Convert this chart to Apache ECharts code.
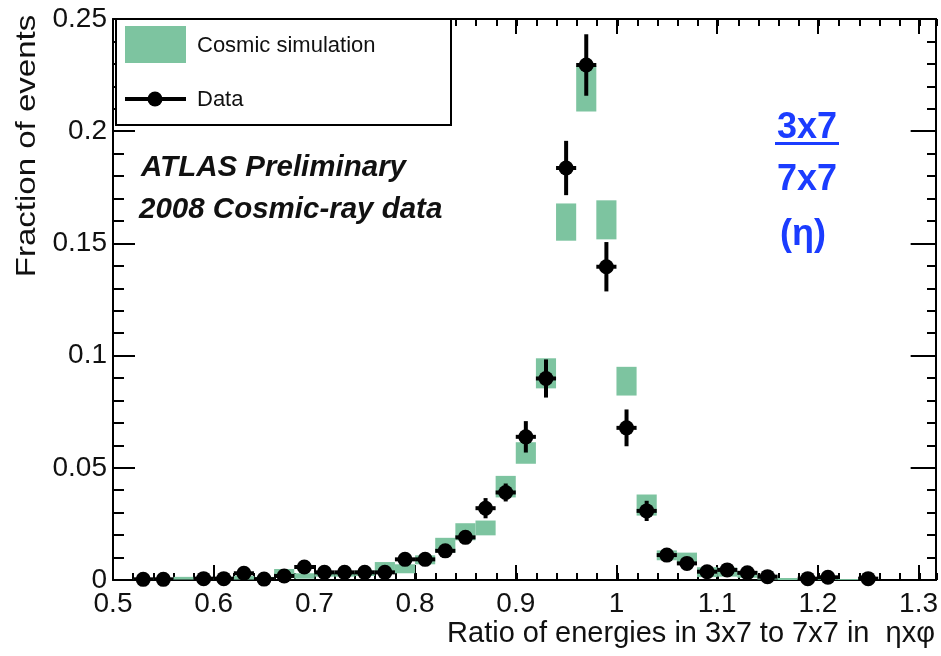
<!DOCTYPE html>
<html>
<head>
<meta charset="utf-8">
<script src="https://cdn.jsdelivr.net/npm/echarts@6/dist/echarts.min.js"></script>
<style>
html,body{margin:0;padding:0;background:#fff;}
#c{width:941px;height:656px;}
</style>
</head>
<body>
<div id="c"></div>
<script>
// ---- data ----
const xTickValues = [0.5, 0.6, 0.7, 0.8, 0.9, 1.0, 1.1, 1.2, 1.3];
const yTickValues = [0, 0.05, 0.1, 0.15, 0.2, 0.25];

// Cosmic simulation: bin centres, values, half-heights of the band
const simX = [0.53,0.55,0.57,0.59,0.61,0.63,0.65,0.67,0.69,0.71,0.73,0.75,0.77,0.79,0.81,0.83,0.85,0.87,0.89,0.91,0.93,0.95,0.97,0.99,1.01,1.03,1.05,1.07,1.09,1.11,1.13,1.15,1.17,1.19,1.21,1.23,1.25];
const simY = [0.0004,0.0004,0.0008,0.0004,0.0004,0.001,0.0008,0.0036,0.0018,0.0025,0.0025,0.003,0.0058,0.005,0.009,0.0155,0.0215,0.0232,0.0416,0.0566,0.0921,0.1595,0.219,0.1605,0.0886,0.0334,0.011,0.0098,0.0035,0.0035,0.0025,0.001,0.0005,0.0003,0.0003,0.0002,0.0002];
const simErr = [0.0004,0.0004,0.0006,0.0004,0.0004,0.0008,0.0006,0.0013,0.0012,0.001,0.001,0.0012,0.0022,0.002,0.002,0.0033,0.0038,0.0033,0.0048,0.0048,0.0067,0.0083,0.0102,0.0087,0.0064,0.0047,0.0022,0.0024,0.0022,0.002,0.0015,0.0008,0.0004,0.0003,0.0003,0.0002,0.0002];

// Data: bin centres, values, errors
const dataX = [0.53,0.55,0.59,0.61,0.63,0.65,0.67,0.69,0.71,0.73,0.75,0.77,0.79,0.81,0.83,0.85,0.87,0.89,0.91,0.93,0.95,0.97,0.99,1.01,1.03,1.05,1.07,1.09,1.11,1.13,1.15,1.19,1.21,1.25];
const dataY = [0.0003,0.0003,0.0006,0.0006,0.003,0.0004,0.0018,0.0058,0.0034,0.0034,0.0034,0.0034,0.0092,0.0092,0.013,0.019,0.032,0.039,0.0638,0.0898,0.1836,0.2295,0.1396,0.0678,0.0308,0.0111,0.0074,0.0037,0.0045,0.0032,0.0015,0.0006,0.0012,0.0006];
const dataErr = [0.0005,0.0005,0.0006,0.0006,0.0012,0.0005,0.001,0.0016,0.0012,0.0012,0.0012,0.0012,0.002,0.002,0.0023,0.0028,0.0045,0.004,0.007,0.0085,0.0121,0.0137,0.011,0.0082,0.0045,0.0025,0.002,0.0014,0.0016,0.0013,0.0009,0.0006,0.0008,0.0006];

const binWidth = 0.02;
const xMin = 0.5, xMax = 1.317, yMin = 0, yMax = 0.25;

// ---- chart ----
const GREEN = '#7dc4a0';
const FONT = '"Liberation Sans", Arial, Helvetica, sans-serif';
const chart = echarts.init(document.getElementById('c'), null, {renderer: 'canvas'});

const gridPos = {left: 113, right: 4, top: 19, bottom: 76};
const lineSt = {color: '#000', width: 2};

function majorX(pos, labels) {
  return {
    gridIndex: 0, type: 'value', position: pos, min: xMin, max: xMax, interval: 0.1,
    axisLine: {show: true, onZero: false, lineStyle: lineSt},
    axisTick: {show: true, inside: true, length: 15, lineStyle: lineSt},
    axisLabel: labels ? {show: true, fontSize: 28, color: '#111', fontFamily: FONT, margin: 10,
      showMaxLabel: false,
      formatter: v => (xTickValues.some(t => Math.abs(t - v) < 1e-6) ? String(+v.toFixed(2)) : '')} : {show: false},
    splitLine: {show: false}
  };
}
function minorX(pos) {
  return {
    gridIndex: 1, type: 'value', position: pos, min: xMin, max: xMax, interval: binWidth,
    axisLine: {show: false, onZero: false},
    axisTick: {show: true, inside: true, length: 7, lineStyle: lineSt},
    axisLabel: {show: false}, splitLine: {show: false}
  };
}
function majorY(pos, labels, len) {
  return {
    gridIndex: 0, type: 'value', position: pos, min: yMin, max: yMax, interval: 0.05,
    axisLine: {show: true, onZero: false, lineStyle: lineSt},
    axisTick: {show: true, inside: true, length: len, lineStyle: lineSt},
    axisLabel: labels ? {show: true, fontSize: 28, color: '#111', fontFamily: FONT, margin: 6,
      formatter: v => (yTickValues.some(t => Math.abs(t - v) < 1e-6) ? String(+v.toFixed(2)) : '')} : {show: false},
    splitLine: {show: false}
  };
}
function minorY(pos, len) {
  return {
    gridIndex: 1, type: 'value', position: pos, min: yMin, max: yMax, interval: 0.01,
    axisLine: {show: false, onZero: false},
    axisTick: {show: true, inside: true, length: len, lineStyle: lineSt},
    axisLabel: {show: false}, splitLine: {show: false}
  };
}

const option = {
  backgroundColor: '#fff',
  animation: false,
  grid: [Object.assign({}, gridPos), Object.assign({}, gridPos)],
  xAxis: [majorX('bottom', true), majorX('top', false), minorX('bottom'), minorX('top')],
  yAxis: [majorY('left', true, 22), majorY('right', false, 25), minorY('left', 11), minorY('right', 10)],
  series: [
    {
      type: 'custom', name: 'Cosmic simulation', xAxisIndex: 0, yAxisIndex: 0, clip: true, z: 1,
      encode: {x: 0, y: 1},
      data: simX.map((x, i) => [x, simY[i], simErr[i]]),
      renderItem: function (params, api) {
        const x = api.value(0), y = api.value(1), e = api.value(2);
        const p1 = api.coord([x - binWidth / 2, y + e]);
        const p2 = api.coord([x + binWidth / 2, y - e]);
        return {type: 'rect', shape: {x: p1[0], y: p1[1], width: p2[0] - p1[0], height: Math.max(p2[1] - p1[1], 2)},
          style: {fill: GREEN}};
      }
    },
    {
      type: 'custom', name: 'Data errors', xAxisIndex: 0, yAxisIndex: 0, clip: true, z: 2,
      encode: {x: 0, y: 1},
      data: dataX.map((x, i) => [x, dataY[i], dataErr[i]]),
      renderItem: function (params, api) {
        const x = api.value(0), y = api.value(1), e = api.value(2);
        const a = api.coord([x, y + e]), b = api.coord([x, y - e]);
        const l = api.coord([x - binWidth / 2, y]), r = api.coord([x + binWidth / 2, y]);
        return {type: 'group', children: [
          {type: 'line', shape: {x1: a[0], y1: a[1], x2: b[0], y2: b[1]}, style: {stroke: '#000', lineWidth: 4}},
          {type: 'line', shape: {x1: l[0], y1: l[1], x2: r[0], y2: r[1]}, style: {stroke: '#000', lineWidth: 4}}
        ]};
      }
    },
    {
      type: 'scatter', name: 'Data', xAxisIndex: 0, yAxisIndex: 0, z: 3,
      symbol: 'circle', symbolSize: 15, itemStyle: {color: '#000', opacity: 1},
      data: dataX.map((x, i) => [x, dataY[i]])
    }
  ],
  graphic: [
    // legend box
    {type: 'rect', left: 115, top: 18, shape: {width: 335, height: 106}, style: {fill: '#fff', stroke: '#000', lineWidth: 2}, z: 10},
    {type: 'rect', left: 125, top: 26, shape: {width: 61, height: 37}, style: {fill: GREEN}, z: 11},
    {type: 'line', shape: {x1: 125, y1: 99, x2: 186, y2: 99}, style: {stroke: '#000', lineWidth: 4}, z: 11},
    {type: 'circle', shape: {cx: 155, cy: 99, r: 7.5}, style: {fill: '#000'}, z: 11},
    {type: 'text', x: 197, y: 46, style: {text: 'Cosmic simulation', font: '22px ' + FONT, fill: '#111', verticalAlign: 'middle'}, z: 11},
    {type: 'text', x: 197, y: 100, style: {text: 'Data', font: '22px ' + FONT, fill: '#111', verticalAlign: 'middle'}, z: 11},
    // ATLAS label
    {type: 'text', x: 141, y: 168, style: {text: 'ATLAS Preliminary', font: 'italic bold 29.5px ' + FONT, fill: '#111', verticalAlign: 'middle'}, z: 11},
    {type: 'text', x: 139, y: 210, style: {text: '2008 Cosmic-ray data', font: 'italic bold 29.5px ' + FONT, fill: '#111', verticalAlign: 'middle'}, z: 11},
    // blue annotation
    {type: 'text', x: 807, y: 128, style: {text: '3x7', font: 'bold 36px ' + FONT, fill: '#1b3cff', align: 'center', verticalAlign: 'middle'}, z: 11},
    {type: 'rect', left: 775, top: 142, shape: {width: 64, height: 3}, style: {fill: '#1b3cff'}, z: 11},
    {type: 'text', x: 807, y: 180, style: {text: '7x7', font: 'bold 36px ' + FONT, fill: '#1b3cff', align: 'center', verticalAlign: 'middle'}, z: 11},
    {type: 'text', x: 803, y: 235, style: {text: '(η)', font: 'bold 36px ' + FONT, fill: '#1b3cff', align: 'center', verticalAlign: 'middle'}, z: 11},
    // axis titles
    {type: 'text', x: 935, y: 634, style: {text: 'Ratio of energies in 3x7 to 7x7 in  ηxφ', font: '29px ' + FONT, fill: '#111', align: 'right', verticalAlign: 'middle'}, z: 11},
    {type: 'text', x: 27, y: 146, rotation: Math.PI / 2, scaleX: 1.18, style: {text: 'Fraction of events', font: '28px ' + FONT, fill: '#111', align: 'center', verticalAlign: 'middle'}, z: 11}
  ]
};
chart.setOption(option);
</script>
</body>
</html>
